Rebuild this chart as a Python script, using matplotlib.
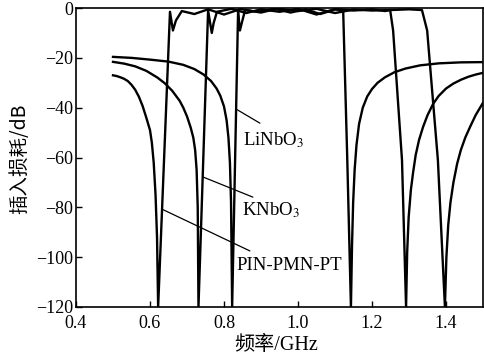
import numpy as np
import matplotlib
matplotlib.use('Agg')
import matplotlib.pyplot as plt

plt.rcParams['mathtext.fontset'] = 'stix'

# insertion loss curves (freq in GHz, loss in dB)
f_lin = [0.50, 0.55, 0.60, 0.65, 0.69, 0.72, 0.745, 0.765, 0.78, 0.79, 0.80, 0.807, 0.812, 0.816, 0.819, 0.822,
         0.838, 0.843, 0.848, 0.857, 0.90, 0.94, 0.98, 1.02, 1.06, 1.10, 1.122,
         1.133, 1.143, 1.146, 1.149, 1.153, 1.158, 1.165, 1.175, 1.187, 1.20, 1.215, 1.235, 1.26, 1.29,
         1.33, 1.38, 1.44, 1.50]
db_lin = [-19.6, -20.0, -20.7, -21.5, -22.8, -24.5, -26.7, -29.3, -32.3, -35.2, -39.5, -45, -52, -62, -78, -120,
          -1.5, -9, -6, -0.8, -1.8, -0.4, -1.8, -0.5, -2.4, -0.6, -0.8,
          -60, -120, -95, -78, -65, -55, -46.5, -40, -35.5, -32.5, -30, -27.8, -25.8, -24.3,
          -23.0, -22.2, -21.8, -21.7]

f_kn = [0.50, 0.53, 0.56, 0.59, 0.62, 0.64, 0.66, 0.68, 0.69, 0.70, 0.71, 0.717, 0.722, 0.726, 0.729, 0.731,
        0.757, 0.767, 0.772, 0.781, 0.82, 0.86, 0.90, 0.95, 1.00, 1.05, 1.10, 1.15, 1.20, 1.235, 1.249,
        1.257, 1.281, 1.292, 1.295, 1.299, 1.305, 1.311, 1.318, 1.327, 1.338, 1.35, 1.365, 1.38, 1.40,
        1.42, 1.44, 1.46, 1.48, 1.50]
db_kn = [-21.6, -22.3, -23.4, -25.2, -27.9, -30.2, -33.2, -37.2, -40, -43.5, -48, -52, -57, -65, -80, -120,
         -1.0, -10, -6, -1.5, -0.3, -2.0, -0.5, -1.5, -0.3, -2.6, -0.4, -1.0, -0.5, -1.2, -0.8,
         -9, -61, -120, -98, -84, -73, -66, -59, -53, -47.7, -43, -38.5, -35.3, -32.3,
         -30.3, -28.8, -27.6, -26.7, -26]

f_pin = [0.50, 0.51, 0.52, 0.53, 0.54, 0.55, 0.56, 0.57, 0.58, 0.59, 0.60, 0.605, 0.61, 0.615, 0.619, 0.622,
         0.654, 0.662, 0.670, 0.686, 0.72, 0.757, 0.80, 0.845, 0.89, 0.94, 1.00, 1.05, 1.10, 1.15, 1.20,
         1.25, 1.30, 1.335,
         1.349, 1.378, 1.397, 1.401, 1.406, 1.412, 1.42, 1.43, 1.44, 1.452, 1.465, 1.48, 1.50]
db_pin = [-27.0, -27.3, -27.8, -28.4, -29.3, -30.8, -32.8, -35.6, -39.3, -44, -49, -54, -62, -75, -92, -120,
          -1.5, -9, -5, -1.2, -2.4, -0.5, -2.6, -0.4, -1.5, -0.2, -1.2, -0.3, -2.0, -0.6, -1.0,
          -0.8, -0.5, -0.8,
          -9, -61, -120, -100, -87, -78, -70, -62.5, -57, -52, -47.7, -43, -38]

xticks = [0.4, 0.6, 0.8, 1.0, 1.2, 1.4]
yticks = [-120, -100, -80, -60, -40, -20, 0]

fig = plt.figure(figsize=(4.84, 3.58), dpi=100)
ax = fig.add_axes([0.157, 0.1425, 0.841, 0.835])

for f, d in [(f_lin, db_lin), (f_kn, db_kn), (f_pin, db_pin)]:
    ax.plot(f, d, color='black', lw=1.7, solid_joinstyle='round')

ax.set_xlim(0.4, 1.5)
ax.set_ylim(-120, 0)
ax.set_xticks(xticks)
ax.set_yticks(yticks)
ax.set_xticklabels(['%.1f' % v for v in xticks], family='Liberation Serif', fontsize=13)
ax.set_yticklabels(['\u2212%d' % -v if v < 0 else '0' for v in yticks], family='Liberation Serif', fontsize=13)
ax.tick_params(direction='in', length=4, width=1, pad=2)
ax.tick_params(axis='x', pad=6)
for s in ax.spines.values():
    s.set_linewidth(1.2)

fig.text(0.040, 0.556, '插入损耗/dB', rotation=90, ha='center', va='center',
         family=['Noto Sans CJK SC', 'DejaVu Sans'], fontsize=14)
fig.text(0.571, 0.034, '频率/GHz', ha='center', va='center',
         family=['Liberation Serif', 'Noto Sans CJK SC'], fontsize=14.5)

lbl = dict(family='Liberation Serif', fontsize=13.5, va='center', ha='left')
arr = dict(arrowstyle='-', lw=0.9, color='black', shrinkA=0, shrinkB=0)
ax.annotate('', xy=(0.832, -40.5), xytext=(0.897, -46.2), arrowprops=arr)
ax.text(0.852, -53, 'LiNbO$_3$', **lbl)
ax.annotate('', xy=(0.743, -67.8), xytext=(0.878, -75.9), arrowprops=arr)
ax.text(0.849, -81, 'KNbO$_3$', **lbl)
ax.annotate('', xy=(0.632, -80.7), xytext=(0.870, -97.5), arrowprops=arr)
ax.text(0.833, -103.5, 'PIN-PMN-PT', **lbl)

fig.savefig('out.png', dpi=100)
